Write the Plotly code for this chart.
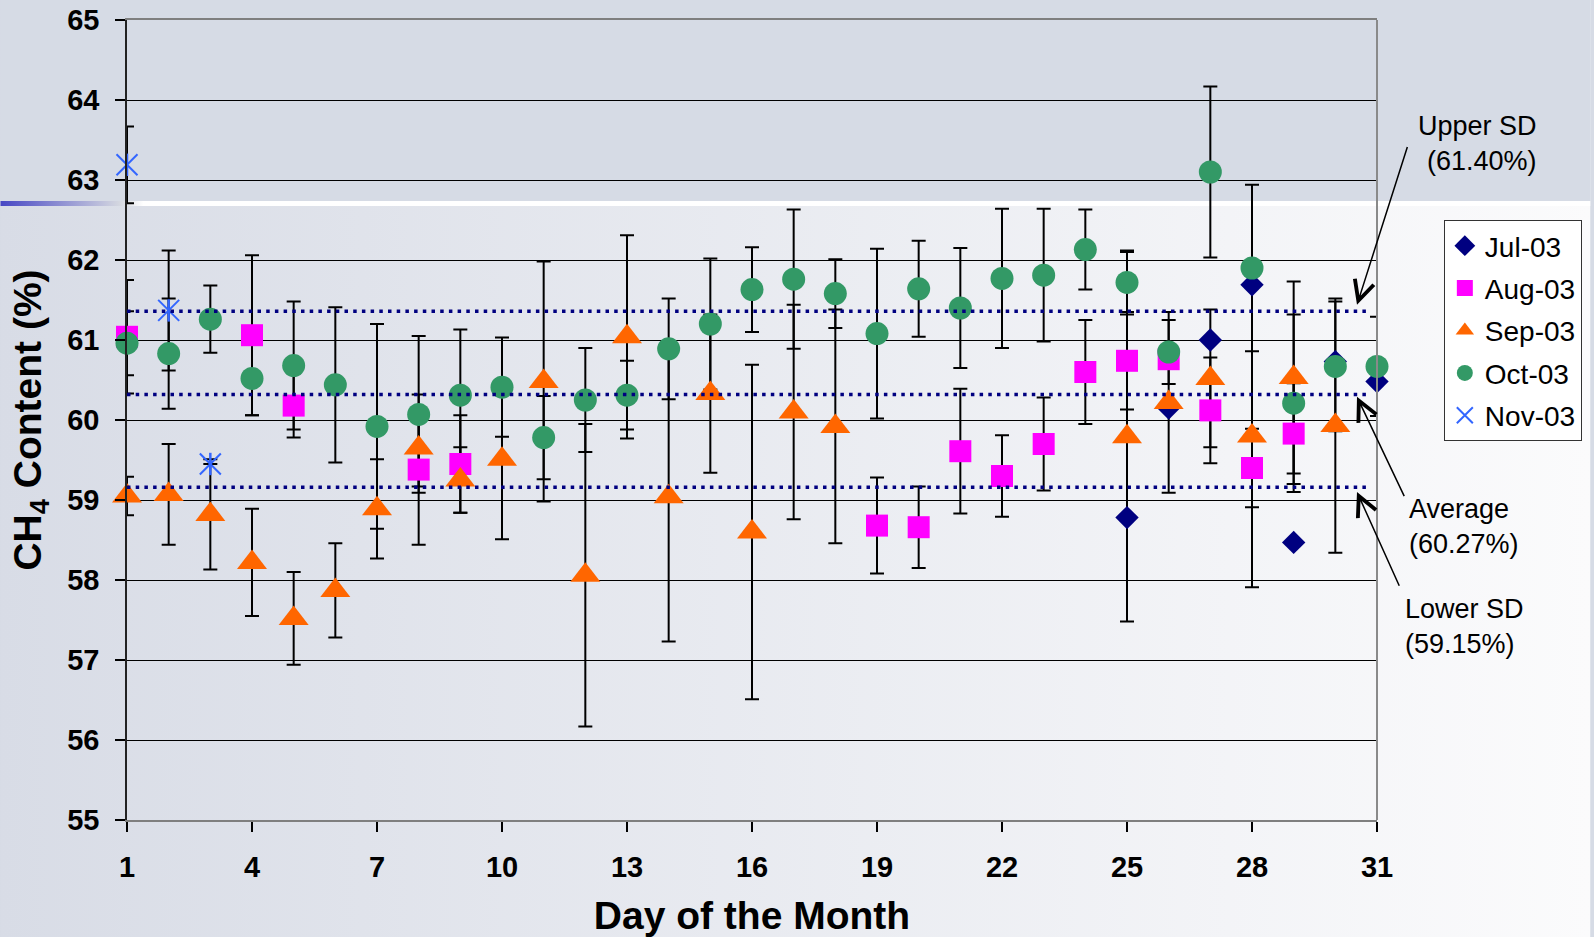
import base64
import plotly.graph_objects as go

# ---------------- data ----------------
days_jul = [25, 26, 27, 28, 29, 30, 31]
ch4_jul = [58.78, 60.15, 61.00, 61.69, 58.47, 60.73, 60.48]

days_aug = [1, 4, 5, 8, 9, 19, 20, 21, 22, 23, 24, 25, 26, 27, 28, 29]
ch4_aug = [61.04, 61.06, 60.18, 59.38, 59.45, 58.68, 58.66, 59.61, 59.30, 59.70,
           60.60, 60.74, 60.76, 60.12, 59.40, 59.83]
sd_aug = [0.71, 1.00, 0.40, 0.94, 0.61, 0.60, 0.51, 0.78, 0.51, 0.58,
          0.65, 0.61, None, 0.66, 0.49, 0.63]

days_sep = [1, 2, 3, 4, 5, 6, 7, 8, 9, 10, 11, 12, 13, 14, 15, 16, 17, 18,
            25, 26, 27, 28, 29, 30]
ch4_sep = [59.05, 59.07, 58.82, 58.22, 57.52, 57.87, 58.89, 59.65, 59.25, 59.51,
           60.48, 58.06, 61.04, 59.04, 60.33, 58.60, 60.10, 59.92,
           59.79, 60.22, 60.52, 59.80, 60.53, 59.93]
sd_sep = [0.24, 0.63, 0.69, 0.67, 0.58, 0.59, 0.62, 0.48, 0.41, 1.00,
          1.50, 1.89, 1.27, 1.81, 0.99, 2.09, 1.34, 1.46,
          2.31, 1.13, 0.86, 1.89, 1.20, 1.59]

days_oct = list(range(1, 32))
ch4_oct = [60.96, 60.83, 61.26, 60.52, 60.68, 60.44, 59.92, 60.07, 60.31, 60.41,
           59.78, 60.25, 60.31, 60.89, 61.20, 61.63, 61.76, 61.58, 61.08, 61.64,
           61.40, 61.77, 61.81, 62.13, 61.72, 60.85, 63.10, 61.90, 60.21, 60.67, 60.67]
sd_oct = [0.40, 0.69, 0.42, 0.46, 0.80, 0.97, 1.28, 0.98, 0.82, 0.62,
          0.52, 0.65, 0.43, 0.63, 0.82, 0.53, 0.87, 0.43, 1.06, 0.60,
          0.75, 0.87, 0.83, 0.50, 0.40, 0.40, 1.07, 1.04, 1.11, 0.81, 0.62]

days_nov = [1, 2, 3]
ch4_nov = [63.19, 61.37, 59.45]
sd_nov = [0.48, 0.75, None]

ref_line_days = [1, 30.8]
upper_sd = 61.36
average = 60.32
lower_sd = 59.16

x_ticks = [1, 4, 7, 10, 13, 16, 19, 22, 25, 28, 31]
y_ticks = [55, 56, 57, 58, 59, 60, 61, 62, 63, 64, 65]

# ---------------- styling ----------------
FONT = "Arial, Liberation Sans, sans-serif"
W, H = 1594, 937
ML, MR, MT, MB = 127, 214, 20, 117
PW, PH = W - ML - MR, H - MT - MB

C_JUL = "#000080"
C_AUG = "#FF00FF"
C_SEP = "#FF6600"
C_OCT = "#339966"
C_NOV = "#3366FF"

fig = go.Figure()

# error bars first (beneath every marker)
def err_trace(x, y, e):
    return go.Scatter(
        x=x, y=y, mode="markers",
        marker=dict(color="rgba(0,0,0,0)", size=1),
        error_y=dict(type="data", array=e, symmetric=True, color="black",
                     thickness=2, width=7),
        showlegend=False, hoverinfo="skip", cliponaxis=False,
    )

fig.add_trace(err_trace(days_aug, ch4_aug, sd_aug))
fig.add_trace(err_trace(days_sep, ch4_sep, sd_sep))
fig.add_trace(err_trace(days_oct, ch4_oct, sd_oct))
fig.add_trace(err_trace(days_nov, ch4_nov, sd_nov))

# markers
fig.add_trace(go.Scatter(x=days_jul, y=ch4_jul, mode="markers", name="Jul-03",
                         marker=dict(symbol="diamond", size=18, color=C_JUL),
                         cliponaxis=False))
fig.add_trace(go.Scatter(x=days_aug, y=ch4_aug, mode="markers", name="Aug-03",
                         marker=dict(symbol="square", size=22, color=C_AUG),
                         cliponaxis=False))
fig.add_trace(go.Scatter(x=days_sep, y=ch4_sep, mode="markers", name="Sep-03",
                         marker=dict(symbol="triangle-up", size=26, color=C_SEP),
                         cliponaxis=False))
fig.add_trace(go.Scatter(x=days_oct, y=ch4_oct, mode="markers", name="Oct-03",
                         marker=dict(symbol="circle", size=23, color=C_OCT),
                         cliponaxis=False))
fig.add_trace(go.Scatter(x=days_nov, y=ch4_nov, mode="markers", name="Nov-03",
                         legendgroup="nov",
                         marker=dict(symbol="x-thin-open", size=21, color=C_NOV,
                                     line=dict(color=C_NOV, width=2)),
                         cliponaxis=False))
fig.add_trace(go.Scatter(x=days_nov, y=ch4_nov, mode="markers", name="Nov-03",
                         legendgroup="nov", showlegend=False,
                         marker=dict(symbol="line-ns-open", size=16, color=C_NOV,
                                     line=dict(color=C_NOV, width=2.5)),
                         cliponaxis=False))

# dotted reference lines (on top)
for val in (upper_sd, average, lower_sd):
    fig.add_trace(go.Scatter(x=ref_line_days, y=[val, val], mode="lines",
                             line=dict(color="#000080", width=3.5, dash="3.5px,5.2px"),
                             showlegend=False, hoverinfo="skip"))

# ---------------- background (slide look) ----------------
svg = f'''<svg xmlns="http://www.w3.org/2000/svg" width="{W}" height="{H}" viewBox="0 0 {W} {H}">
<defs>
<linearGradient id="g" x1="0" y1="0" x2="1" y2="0">
<stop offset="0" stop-color="#d8dce6"/><stop offset="1" stop-color="#fbfbfc"/>
</linearGradient>
<linearGradient id="b" x1="0" y1="0" x2="1" y2="0">
<stop offset="0" stop-color="#4646c4"/><stop offset="0.075" stop-color="#d4d7e0"/>
<stop offset="0.09" stop-color="#ffffff"/><stop offset="1" stop-color="#ffffff"/>
</linearGradient>
</defs>
<rect x="0" y="0" width="{W}" height="{H}" fill="url(#g)"/>
<rect x="0" y="0" width="{W}" height="201" fill="#d6dbe5"/>
<rect x="0" y="201" width="{W}" height="5" fill="url(#b)"/>
</svg>'''
src = "data:image/svg+xml;base64," + base64.b64encode(svg.encode()).decode()

fig.add_layout_image(dict(
    source=src, xref="paper", yref="paper",
    x=-ML / PW, y=1 + MT / PH, sizex=W / PW, sizey=H / PH,
    xanchor="left", yanchor="top", sizing="stretch", layer="below",
))

# right frame border
fig.add_shape(type="line", xref="paper", yref="paper", x0=1, x1=1, y0=0, y1=1,
              line=dict(color="#8a8a8a", width=2))

# ---------------- annotations ----------------
def px_x(px):
    return (px - ML) / PW

def px_y(py):
    return 1 - (py - MT) / PH

ann_font = dict(family=FONT, size=27, color="black")
fig.add_annotation(text="Upper SD<br>(61.40%)", xref="paper", yref="paper",
                   x=px_x(1542), y=px_y(143), xanchor="right", yanchor="middle",
                   align="right", showarrow=False, font=ann_font)
fig.add_annotation(text="Average<br>(60.27%)", xref="paper", yref="paper",
                   x=px_x(1410), y=px_y(526), xanchor="left", yanchor="middle",
                   align="left", showarrow=False, font=ann_font)
fig.add_annotation(text="Lower SD<br>(59.15%)", xref="paper", yref="paper",
                   x=px_x(1406), y=px_y(626), xanchor="left", yanchor="middle",
                   align="left", showarrow=False, font=ann_font)

arrows = [
    # (head_day, head_val, tail_day, tail_val)
    (30.52, 61.44, 31.74, 63.43),
    (30.52, 60.29, 31.67, 59.03),
    (30.52, 59.10, 31.55, 57.91),
]
for hx, hy, tx, ty in arrows:
    fig.add_annotation(text="", x=hx, y=hy, ax=tx, ay=ty, xref="x", yref="y",
                       axref="x", ayref="y", showarrow=True, arrowhead=5,
                       arrowsize=2.6, arrowwidth=1.5, arrowcolor="black",
                       standoff=0, startstandoff=0)

# ---------------- layout ----------------
fig.update_layout(
    width=W, height=H, autosize=False,
    margin=dict(l=ML, r=MR, t=MT, b=MB, pad=0),
    paper_bgcolor="#d6dbe5", plot_bgcolor="rgba(0,0,0,0)",
    font=dict(family=FONT, color="black"),
    showlegend=True,
    legend=dict(
        x=px_x(1447), y=px_y(220), xanchor="left", yanchor="top",
        bgcolor="white", bordercolor="#333333", borderwidth=1,
        font=dict(family=FONT, size=28, color="black"),
        itemsizing="trace", tracegroupgap=3,
    ),
    xaxis=dict(
        range=[1, 31], tickmode="array", tickvals=x_ticks,
        ticks="outside", ticklen=10, tickwidth=1.5, tickcolor="black",
        tickfont=dict(family=FONT, size=29, color="black", weight="bold"),
        ticklabelstandoff=10,
        showgrid=False, zeroline=False,
        showline=True, linecolor="#7f7f7f", linewidth=2, mirror=True,
        title=dict(text="Day of the Month", standoff=21,
                   font=dict(family=FONT, size=39, color="black", weight="bold")),
        automargin=False,
    ),
    yaxis=dict(
        range=[55, 65], tickmode="array", tickvals=y_ticks,
        ticks="outside", ticklen=10, tickwidth=1.5, tickcolor="black",
        tickfont=dict(family=FONT, size=29, color="black", weight="bold"),
        ticklabelstandoff=10,
        showgrid=True, gridcolor="black", gridwidth=1, zeroline=False,
        showline=True, linecolor="#222222", linewidth=1.5,
        title=dict(text="CH<sub>4</sub> Content (%)", standoff=14,
                   font=dict(family=FONT, size=39, color="black", weight="bold")),
        automargin=False,
    ),
)

fig.write_html(
    "out.html",
    config={"displayModeBar": False},
    post_script="document.body.style.margin='0';document.body.style.overflow='hidden';",
)
